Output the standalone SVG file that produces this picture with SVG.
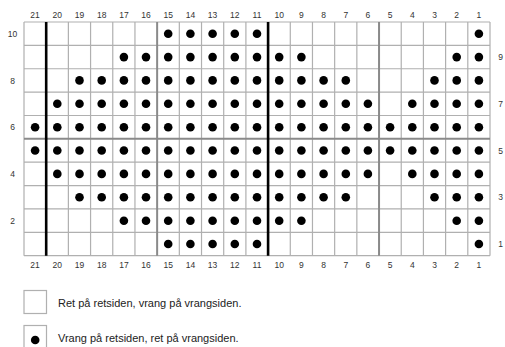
<svg xmlns="http://www.w3.org/2000/svg" xmlns:xlink="http://www.w3.org/1999/xlink" width="505" height="347" viewBox="0 0 505 347">
<style>
.g{stroke:#b0b0b0;stroke-width:1.2;fill:none}
.gd{stroke:#8a8a8a;stroke-width:2;fill:none}
.k{stroke:#000;stroke-width:2.6;fill:none}
.n{font-family:"Liberation Sans",Arial,sans-serif;font-size:8.5px;fill:#333;text-anchor:middle}
.l{font-family:"Liberation Sans",Arial,sans-serif;font-size:11px;fill:#222}
circle{fill:#000}
</style>
<defs>
<g id="r1"><circle cx="168.2" cy="0" r="4.3"/><circle cx="190.4" cy="0" r="4.3"/><circle cx="212.6" cy="0" r="4.3"/><circle cx="234.8" cy="0" r="4.3"/><circle cx="257.0" cy="0" r="4.3"/><circle cx="478.9" cy="0" r="4.3"/></g>
<g id="r2"><use xlink:href="#r1"/><circle cx="123.9" cy="0" r="4.3"/><circle cx="146.0" cy="0" r="4.3"/><circle cx="279.2" cy="0" r="4.3"/><circle cx="301.4" cy="0" r="4.3"/><circle cx="456.7" cy="0" r="4.3"/></g>
<g id="r3"><use xlink:href="#r2"/><circle cx="79.5" cy="0" r="4.3"/><circle cx="101.7" cy="0" r="4.3"/><circle cx="323.6" cy="0" r="4.3"/><circle cx="345.8" cy="0" r="4.3"/><circle cx="434.5" cy="0" r="4.3"/></g>
<g id="r4"><use xlink:href="#r3"/><circle cx="57.3" cy="0" r="4.3"/><circle cx="367.9" cy="0" r="4.3"/><circle cx="412.3" cy="0" r="4.3"/></g>
<g id="r5"><use xlink:href="#r4"/><circle cx="35.1" cy="0" r="4.3"/><circle cx="390.1" cy="0" r="4.3"/></g>
</defs>
<rect x="0" y="0" width="505" height="347" fill="#fff"/>
<g id="grid">
<path class="g" d="M24 22V255.7M68.38 22V255.7M90.57 22V255.7M112.76 22V255.7M134.95 22V255.7M179.33 22V255.7M201.52 22V255.7M223.71 22V255.7M245.9 22V255.7M290.28 22V255.7M312.47 22V255.7M334.66 22V255.7M356.85 22V255.7M401.23 22V255.7M423.42 22V255.7M445.61 22V255.7M467.8 22V255.7M490 22V255.7"/>
<path class="g" d="M24 22H490M24 45.37H490M24 68.74H490M24 92.11H490M24 115.48H490M24 162.22H490M24 185.59H490M24 208.96H490M24 232.33H490M24 255.7H490"/>
<path class="gd" d="M157.14 22V255.7M379.04 22V255.7M24 138.85H490"/>
<path class="k" d="M46.19 22V255.7M268.09 22V255.7"/>
</g>
<g id="dots">
<use xlink:href="#r1" y="33.7"/>
<use xlink:href="#r2" y="57.1"/>
<use xlink:href="#r3" y="80.4"/>
<use xlink:href="#r4" y="103.8"/>
<use xlink:href="#r5" y="127.2"/>
<use xlink:href="#r5" y="150.5"/>
<use xlink:href="#r4" y="173.9"/>
<use xlink:href="#r3" y="197.3"/>
<use xlink:href="#r2" y="220.7"/>
<use xlink:href="#r1" y="244.0"/>
</g>
<g id="top-numbers" class="n">
<text x="35.1" y="18">21</text><text x="57.3" y="18">20</text><text x="79.5" y="18">19</text><text x="101.7" y="18">18</text><text x="123.9" y="18">17</text><text x="146.0" y="18">16</text><text x="168.2" y="18">15</text><text x="190.4" y="18">14</text><text x="212.6" y="18">13</text><text x="234.8" y="18">12</text><text x="257.0" y="18">11</text><text x="279.2" y="18">10</text><text x="301.4" y="18">9</text><text x="323.6" y="18">8</text><text x="345.8" y="18">7</text><text x="367.9" y="18">6</text><text x="390.1" y="18">5</text><text x="412.3" y="18">4</text><text x="434.5" y="18">3</text><text x="456.7" y="18">2</text><text x="478.9" y="18">1</text>
</g>
<g id="bottom-numbers" class="n">
<text x="35.1" y="268">21</text><text x="57.3" y="268">20</text><text x="79.5" y="268">19</text><text x="101.7" y="268">18</text><text x="123.9" y="268">17</text><text x="146.0" y="268">16</text><text x="168.2" y="268">15</text><text x="190.4" y="268">14</text><text x="212.6" y="268">13</text><text x="234.8" y="268">12</text><text x="257.0" y="268">11</text><text x="279.2" y="268">10</text><text x="301.4" y="268">9</text><text x="323.6" y="268">8</text><text x="345.8" y="268">7</text><text x="367.9" y="268">6</text><text x="390.1" y="268">5</text><text x="412.3" y="268">4</text><text x="434.5" y="268">3</text><text x="456.7" y="268">2</text><text x="478.9" y="268">1</text>
</g>
<g id="row-numbers" class="n">
<text x="12.5" y="36.8">10</text><text x="12.5" y="83.5">8</text><text x="12.5" y="130.3">6</text><text x="12.5" y="177">4</text><text x="12.5" y="223.8">2</text>
<text x="500.5" y="60.2">9</text><text x="500.5" y="106.9">7</text><text x="500.5" y="153.6">5</text><text x="500.5" y="200.4">3</text><text x="500.5" y="247.1">1</text>
</g>
<g id="legend">
<rect x="24" y="290.5" width="22.5" height="23" fill="#fff" stroke="#b0b0b0" stroke-width="1.2"/>
<text class="l" x="58" y="306.5">Ret på retsiden, vrang på vrangsiden.</text>
<rect x="24" y="325.5" width="22.5" height="23" fill="#fff" stroke="#b0b0b0" stroke-width="1.2"/>
<circle cx="35.2" cy="340" r="4.3"/>
<text class="l" x="58" y="341.5">Vrang på retsiden, ret på vrangsiden.</text>
</g>
</svg>
